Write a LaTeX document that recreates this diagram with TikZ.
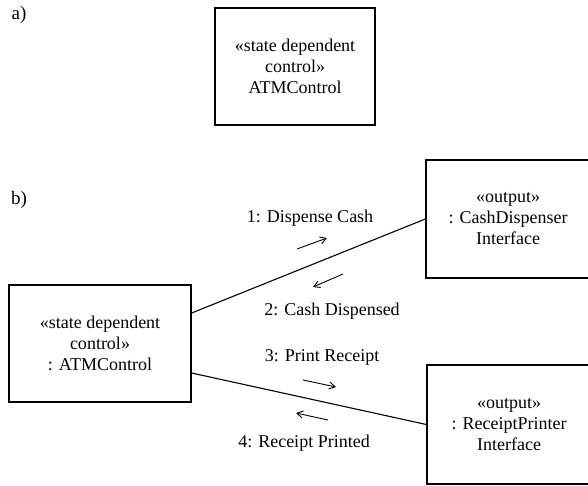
\documentclass[tikz,border=0pt]{standalone}
\usepackage{fontspec}
\setmainfont{Liberation Serif}
\usetikzlibrary{positioning, arrows.meta}

\begin{document}
\begin{tikzpicture}[
      x=1pt, y=-1pt,
      % Styling nodes
      base/.style={
        draw,
        rectangle,
        line width=1.3pt,
        align=center,
        font=\fontsize{18}{21}\selectfont,
        inner sep=0pt
      },
      objbox/.style={base, minimum height=117pt},
      msg/.style={font=\fontsize{18}{21}\selectfont, inner sep=0pt},
      tag/.style={font=\fontsize{19}{22}\selectfont, inner sep=0pt},
      link/.style={line width=1.1pt},
      arrow/.style={-{Straight Barb[length=6pt, width=7pt]}, line width=0.9pt}
    ]
    \clip (0,0) rectangle (588,485);

    % Part a)
    \node (lbla) [tag] at (19,15) {a)};
    \node (ctrla) [objbox, minimum width=160pt] at (295,66.5)
      {«state dependent\\control»\\ATMControl};

    % Part b)
    \node (lblb) [tag] at (19,200) {b)};
    \node (atm) [objbox, minimum width=182pt] at (100,343.5)
      {«state dependent\\control»\\: ATMControl};
    \node (cash) [objbox, minimum width=164pt, minimum height=118pt] at (508,219)
      {«output»\\: CashDispenser\\Interface};
    \node (printer) [objbox, minimum width=164pt, minimum height=119pt] at (509,424.5)
      {«output»\\: ReceiptPrinter\\Interface};

    % Links
    \draw[link] ([yshift=30.5pt]atm.east) -- (cash.west);
    \draw[link] ([yshift=-29.5pt]atm.east) -- (printer.west);

    % Messages
    \node (m1) [msg] at (310,218) {1: Dispense Cash};
    \node (m2) [msg] at (332,311) {2: Cash Dispensed};
    \node (m3) [msg] at (322,357) {3: Print Receipt};
    \node (m4) [msg] at (304,443) {4: Receipt Printed};

    \coordinate (m1s) at (297,249);
    \coordinate (m1e) at (327,238);
    \coordinate (m2s) at (343,274);
    \coordinate (m2e) at (313,287);
    \coordinate (m3s) at (303,380);
    \coordinate (m3e) at (336,387);
    \coordinate (m4s) at (328,420);
    \coordinate (m4e) at (296,413);

    \draw[arrow] (m1s) -- (m1e);
    \draw[arrow] (m2s) -- (m2e);
    \draw[arrow] (m3s) -- (m3e);
    \draw[arrow] (m4s) -- (m4e);

  \end{tikzpicture}
\end{document}
